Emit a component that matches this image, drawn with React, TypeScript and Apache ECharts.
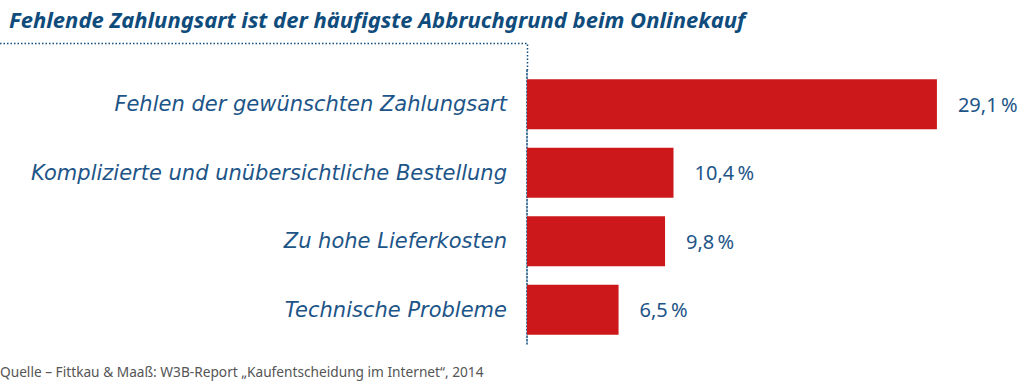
import React, { useEffect, useRef } from "react";
import * as echarts from "echarts";

const titleText = "Fehlende Zahlungsart ist der häufigste Abbruchgrund beim Onlinekauf";
const sourceText = "Quelle – Fittkau & Maaß: W3B-Report „Kaufentscheidung im Internet“, 2014";
const categories = [
  "Fehlen der gewünschten Zahlungsart",
  "Komplizierte und unübersichtliche Bestellung",
  "Zu hohe Lieferkosten",
  "Technische Probleme",
];
const values = [29.1, 10.4, 9.8, 6.5];

const BLUE = "#0f4c7c";
const LABEL_BLUE = "#1d5588";
const RED = "#cc181b";

export default function App() {
  const ref = useRef<HTMLDivElement>(null);
  useEffect(() => {
    if (!ref.current) return;
    const chart = echarts.init(ref.current, null, { renderer: "svg" });
    chart.setOption({
      animation: false,
      backgroundColor: "#ffffff",
      title: [
        {
          text: titleText,
          left: 4,
          top: 3,
          textStyle: {
            fontFamily: "Noto Sans",
            fontStyle: "italic",
            fontWeight: "bold",
            fontSize: 22,
            color: BLUE,
          },
        },
        {
          text: sourceText,
          left: 0,
          top: 360,
          padding: [2, 0, 0, 0],
          textStyle: {
            fontFamily: "Noto Sans",
            fontWeight: "normal",
            fontSize: 13.7,
            lineHeight: 18,
            color: "#555555",
          },
        },
      ],
      graphic: [
        {
          type: "polyline",
          z: 0,
          shape: { points: [[0, 43.5], [527.5, 43.5], [527.5, 70]] },
          style: { stroke: BLUE, lineWidth: 1.5, lineDash: [1.5, 2], fill: null },
        },
      ],
      grid: { left: 527, top: 70, width: 422.6, height: 274, containLabel: false },
      xAxis: {
        type: "value",
        min: 0,
        max: 30,
        show: false,
      },
      yAxis: {
        type: "category",
        data: categories,
        inverse: true,
        axisTick: { show: false },
        axisLine: {
          show: true,
          lineStyle: { color: BLUE, width: 1.5, type: [1.5, 2] },
        },
        axisLabel: {
          margin: 20,
          fontFamily: "DejaVu Sans",
          fontStyle: "italic",
          fontSize: 21,
          color: LABEL_BLUE,
        },
        splitLine: { show: false },
      },
      series: [
        {
          type: "bar",
          data: values,
          barWidth: 50,
          z: 3,
          itemStyle: { color: RED },
          label: {
            show: true,
            position: "right",
            distance: 21,
            fontFamily: "Noto Sans",
            fontSize: 20,
            color: LABEL_BLUE,
            formatter: (p: any) => p.value.toFixed(1).replace(".", ",") + "\u202F%",
          },
        },
      ],
    });
    return () => chart.dispose();
  }, []);
  return (
    <div
      ref={ref}
      style={{ position: "fixed", left: 0, top: 0, width: 1024, height: 382 }}
    />
  );
}
